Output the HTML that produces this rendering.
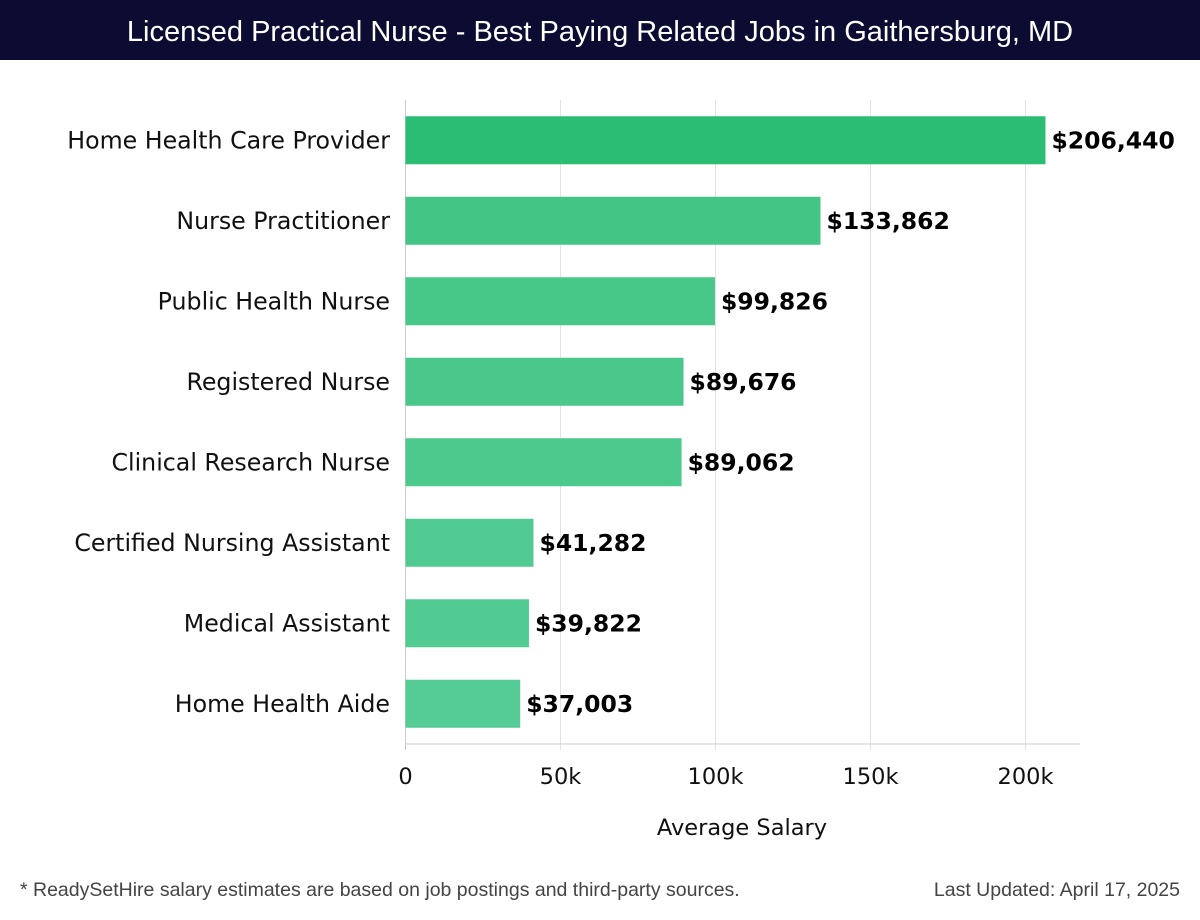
<!DOCTYPE html>
<html><head><meta charset="utf-8"><style>
body{margin:0;width:1200px;height:920px;background:#fff;font-family:"DejaVu Sans","Liberation Sans",sans-serif;overflow:hidden;position:relative}
#title{position:absolute;left:0;top:0;width:1200px;height:60px;background:#0c0c33;color:#fff;font-size:29px;line-height:64px;text-align:center;font-family:"Liberation Sans",sans-serif}
.foot{position:absolute;top:879px;font-size:19.5px;color:#444;font-family:"Liberation Sans",sans-serif}
</style></head><body>
<div id="title">Licensed Practical Nurse - Best Paying Related Jobs in Gaithersburg, MD</div>
<svg id="chart" width="1200" height="860" style="position:absolute;left:0;top:0"></svg>
<div class="foot" style="left:20px">* ReadySetHire salary estimates are based on job postings and third-party sources.</div>
<div class="foot" style="right:20px">Last Updated: April 17, 2025</div>
<script>
const categories=["Home Health Care Provider","Nurse Practitioner","Public Health Nurse","Registered Nurse","Clinical Research Nurse","Certified Nursing Assistant","Medical Assistant","Home Health Aide"];
const values=[206440,133862,99826,89676,89062,41282,39822,37003];
const tickValues=[0,50000,100000,150000,200000];
const tickLabels=["0","50k","100k","150k","200k"];
const colors=["#2bbd73","#42c585","#47c788","#4ac88b","#4cc98c","#50ca90","#52cb92","#55cc95"];
const NS="http://www.w3.org/2000/svg";
const svg=document.getElementById('chart');
const x0=405.5,x1=1025.5,plotTop=100,plotBottom=744,rightEnd=1080;
const xs=v=>x0+(v/200000)*(x1-x0);
const step=(plotBottom-plotTop)/categories.length;
const ys=i=>plotTop+step*(i+0.5);
const bh=48;
function mk(t,a){const e=document.createElementNS(NS,t);for(const k in a)e.setAttribute(k,a[k]);svg.appendChild(e);return e;}
tickValues.forEach((v,i)=>{
 const g=mk('line',{x1:xs(v),x2:xs(v),y1:plotTop,y2:plotBottom+6,stroke:i==0?'#ccc':'#e3e3e3','stroke-width':1});
 
 
 const t=mk('text',{x:xs(v),y:784,'text-anchor':'middle','font-size':22.5,fill:'#111'});
 t.textContent=tickLabels[i];
 
 
});
const ax=mk('line',{x1:x0,x2:rightEnd,y1:plotBottom,y2:plotBottom,stroke:'#ccc'});


categories.forEach((c,i)=>{
 const y=ys(i);
 const r=mk('rect',{x:x0,y:y-bh/2,width:xs(values[i])-x0,height:bh,fill:colors[i]});
 
 
 const l=mk('text',{x:390,y:y+8,'text-anchor':'end','font-size':23.7,fill:'#111'});
 l.textContent=c;
 
 
 const v=mk('text',{x:xs(values[i])+6,y:y+8,'font-size':23.5,'font-weight':'bold',fill:'#000'});
 v.textContent='$'+values[i].toLocaleString('en-US');
 
 
});
const xt=mk('text',{x:742,y:835,'text-anchor':'middle','font-size':22.5,fill:'#111'});
xt.textContent='Average Salary';


</script>
</body></html>
